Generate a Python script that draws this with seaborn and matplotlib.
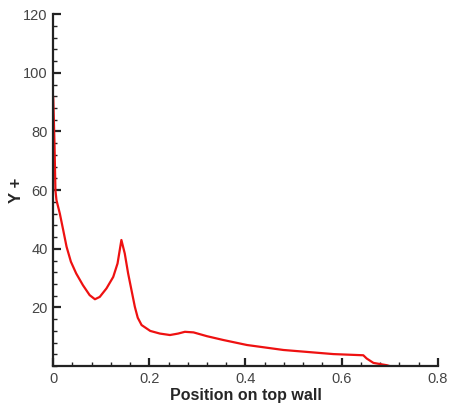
import matplotlib
matplotlib.use("Agg")
import matplotlib.pyplot as plt
import seaborn as sns
import pandas as pd
from matplotlib.ticker import MultipleLocator

# Y+ distribution along the top wall
position = [0.0, 0.0005, 0.003, 0.0048, 0.007, 0.014, 0.021, 0.028, 0.037, 0.048,
            0.062, 0.076, 0.087, 0.097, 0.111, 0.125, 0.134, 0.142, 0.149, 0.156,
            0.163, 0.170, 0.176, 0.184, 0.202, 0.222, 0.243, 0.260, 0.274, 0.292,
            0.320, 0.354, 0.403, 0.479, 0.583, 0.645, 0.652, 0.666, 0.694, 0.70]
y_plus = [92.0, 90.5, 75.0, 60.0, 56.6, 52.0, 46.4, 40.7, 35.6, 31.6,
          27.6, 24.2, 22.8, 23.6, 26.5, 30.4, 35.0, 43.0, 38.4, 31.6,
          25.9, 20.2, 16.5, 14.0, 12.0, 11.1, 10.6, 11.1, 11.7, 11.5,
          10.2, 8.9, 7.2, 5.5, 4.1, 3.7, 2.6, 1.1, 0.3, 0.0]

df = pd.DataFrame({"Position on top wall": position, "Y +": y_plus})

sns.set_style("ticks")
plt.rcParams["font.family"] = ["Liberation Sans", "DejaVu Sans"]

fig = plt.figure(figsize=(4.5, 4.05), dpi=100)
ax = fig.add_axes([0.118, 0.096, 0.855, 0.869])

sns.lineplot(data=df, x="Position on top wall", y="Y +", color="#ee1111",
             linewidth=1.6, sort=False, ax=ax)

ax.set_xlim(0, 0.8)
ax.set_ylim(0, 120)
ax.xaxis.set_minor_locator(MultipleLocator(0.04))
ax.yaxis.set_minor_locator(MultipleLocator(4))
ax.set_xticks([0, 0.2, 0.4, 0.6, 0.8])
ax.set_xticklabels(["0", "0.2", "0.4", "0.6", "0.8"])
ax.set_yticks([20, 40, 60, 80, 100, 120])

for side in ("top", "right"):
    ax.spines[side].set_visible(False)
for side in ("left", "bottom"):
    ax.spines[side].set_linewidth(1.6)
    ax.spines[side].set_color("#222222")

ax.tick_params(which="major", direction="in", length=6, width=1.6,
               color="#222222", labelsize=10.5, labelcolor="#444444", pad=4)
ax.tick_params(which="minor", direction="in", length=3, width=1.0, color="#222222")

ax.set_xlabel("Position on top wall", fontsize=11.5, fontweight="bold", labelpad=2)
ax.set_ylabel("Y +", fontsize=12, fontweight="bold")
ax.yaxis.set_label_coords(-0.076, 0.5)

fig.savefig("out.png", dpi=100)
